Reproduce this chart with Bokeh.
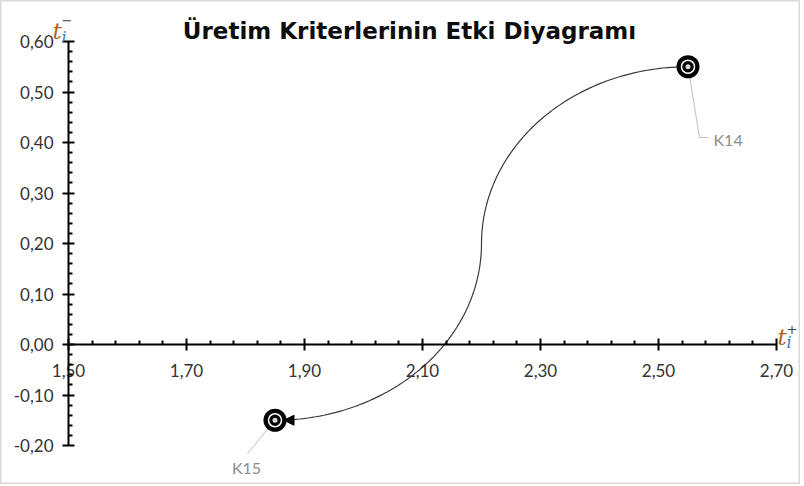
import numpy as np
from bokeh.plotting import figure
from bokeh.models import (Range1d, FixedTicker, CustomJSTickFormatter, Label,
                          Arrow, NormalHead)
from bokeh.embed import file_html
from bokeh.resources import INLINE

# ---------------- data ----------------
title_text = "Üretim Kriterlerinin Etki Diyagramı"
point_names = ["K14", "K15"]
point_x = [2.55, 1.85]
point_y = [0.55, -0.15]
x_ticks = [1.50, 1.70, 1.90, 2.10, 2.30, 2.50, 2.70]
y_ticks = [-0.20, -0.10, 0.00, 0.10, 0.20, 0.30, 0.40, 0.50, 0.60]

# ---------------- layout (window pixels) ----------------
OFF = 1                      # canvas origin in the window
W, H = 800, 484
AX_L, AX_R = 69, 777         # window x of first / last x tick
AX_T, AX_B = 42, 446         # window y of top / bottom y tick
X0, X1 = x_ticks[0], x_ticks[-1]
Y0, Y1 = y_ticks[0], y_ticks[-1]
SX = (AX_R - AX_L) / (X1 - X0)
SY = (AX_B - AX_T) / (Y1 - Y0)
xr_start = X0 - (AX_L - OFF) / SX
yr_end = Y1 + (AX_T - OFF) / SY


def dx(px):  # window pixel -> data x (annotation placement)
    return X0 + (px - AX_L) / SX


def dy(py):
    return Y1 - (py - AX_T) / SY


def minors(ticks, n):
    out = []
    for a, b in zip(ticks[:-1], ticks[1:]):
        out += list(np.linspace(a, b, n + 1)[1:-1])
    return out


p = figure(width=W, height=H,
           x_range=Range1d(xr_start, xr_start + W / SX),
           y_range=Range1d(yr_end - H / SY, yr_end),
           output_backend="svg", toolbar_location=None,
           min_border=0)
p.grid.visible = False
p.outline_line_color = "#d9d9d9"
p.outline_line_width = 2
p.background_fill_color = "white"
p.border_fill_color = "white"

fmt = CustomJSTickFormatter(code="return tick.toFixed(2).replace('.', ',');")
tick_font = "Lato"

xa = p.xaxis[0]
xa.fixed_location = 0
xa.bounds = (X0, X1)
xa.ticker = FixedTicker(ticks=x_ticks, minor_ticks=minors(x_ticks, 5))
xa.formatter = fmt
ya = p.yaxis[0]
ya.fixed_location = X0
ya.bounds = (Y0, Y1)
ya.ticker = FixedTicker(ticks=y_ticks, minor_ticks=minors(y_ticks, 5))
ya.formatter = fmt
for ax in (xa, ya):
    ax.axis_line_color = "black"
    ax.axis_line_width = 2
    ax.major_tick_line_color = "black"
    ax.major_tick_line_width = 2
    ax.major_tick_in = 6
    ax.major_tick_out = 6
    ax.minor_tick_line_color = "black"
    ax.minor_tick_line_width = 2
    ax.minor_tick_in = 4
    ax.minor_tick_out = 0
    ax.major_label_text_font = tick_font
    ax.major_label_text_font_size = "17px"
    ax.major_label_text_color = "#333333"
xa.major_label_standoff = 13
ya.major_label_standoff = 9

# ---------------- curved connector K14 -> K15 ----------------
x1, y1 = point_x[0], point_y[0]
x2, y2 = point_x[1], point_y[1]
mx, my = (x1 + x2) / 2, (y1 + y2) / 2
t = np.linspace(0, np.pi / 2, 80)
arc1_x = x1 - (x1 - mx) * np.sin(t)
arc1_y = my + (y1 - my) * np.cos(t)
arc2_x = x2 + (mx - x2) * np.cos(t)
arc2_y = my - (my - y2) * np.sin(t)
curve_x = np.concatenate([arc1_x, arc2_x[1:]])
curve_y = np.concatenate([arc1_y, arc2_y[1:]])
p.line(curve_x, curve_y, line_color="#3a3a3a", line_width=1.2)

# arrow head at K15
tip = x2 + 9 / SX
p.add_layout(Arrow(end=NormalHead(size=10, fill_color="black", line_color="black"),
                   x_start=tip + 20 / SX, y_start=y2, x_end=tip, y_end=y2,
                   line_alpha=0))

# ---------------- leader lines & data labels ----------------
lead_col = "#bfbfbf"
p.line([x1, dx(700), dx(709)], [y1, dy(138), dy(138)], line_color=lead_col, line_width=1)
p.line([x2, dx(248)], [y2, dy(454)], line_color=lead_col, line_width=1)
p.add_layout(Label(x=dx(714), y=dy(140), text=point_names[0], text_align="left",
                   text_baseline="middle", text_font=tick_font,
                   text_font_size="16px", text_color="#8c8c8c"))
p.add_layout(Label(x=dx(247), y=dy(468), text=point_names[1], text_align="center",
                   text_baseline="middle", text_font=tick_font,
                   text_font_size="16px", text_color="#8c8c8c"))

# ---------------- markers ----------------
p.scatter(point_x, point_y, marker="circle", size=23, fill_color="black", line_color=None)
p.scatter(point_x, point_y, marker="circle", size=13, fill_color="black",
          line_color="white", line_width=1.5)
p.scatter(point_x, point_y, marker="circle", size=5, fill_color="#d8d8d8", line_color=None)

# ---------------- title ----------------
p.add_layout(Label(x=dx(410), y=dy(31), text=title_text, text_align="center",
                   text_baseline="alphabetic", text_font="DejaVu Sans",
                   text_font_style="bold", text_font_size="23px", text_color="#0d0d0d"))

# ---------------- axis symbols t_i^- and t_i^+ ----------------
t_col, i_col, s_col = "#b4641e", "#3c78c3", "#404040"


def sym(xp, yp, txt, col, size, style="italic"):
    p.add_layout(Label(x=dx(xp), y=dy(yp), text=txt, text_align="left",
                       text_baseline="alphabetic", text_font="DejaVu Serif",
                       text_font_style=style, text_font_size=size, text_color=col))


sym(53, 31, "t", t_col, "23px")
sym(62, 38, "i", i_col, "16px")
sym(62, 20, "−", s_col, "13px", style="normal")
sym(778, 337, "t", t_col, "23px")
sym(787, 343, "i", i_col, "16px")
sym(787, 329, "+", s_col, "13px", style="normal")

open("out.html", "w").write(file_html(p, INLINE))
